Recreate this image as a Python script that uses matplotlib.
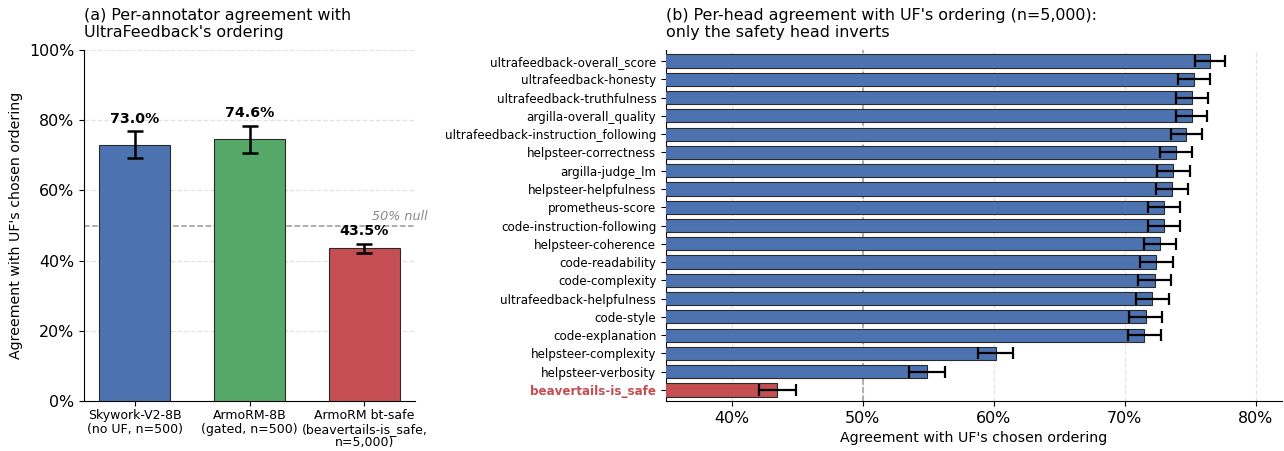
import matplotlib
matplotlib.use("Agg")
import matplotlib.pyplot as plt
from matplotlib.ticker import FuncFormatter

# Panel (a)
annotators = ["Skywork-V2-8B\n(no UF, n=500)", "ArmoRM-8B\n(gated, n=500)",
              "ArmoRM bt-safe\n(beavertails-is_safe,\nn=5,000)"]
agree_a = [73.0, 74.6, 43.5]
err_a = [3.9, 3.85, 1.35]
colors_a = ["#4C72B0", "#55A868", "#C44E52"]

# Panel (b)
heads = ["ultrafeedback-overall_score", "ultrafeedback-honesty", "ultrafeedback-truthfulness",
         "argilla-overall_quality", "ultrafeedback-instruction_following", "helpsteer-correctness",
         "argilla-judge_lm", "helpsteer-helpfulness", "prometheus-score",
         "code-instruction-following", "helpsteer-coherence", "code-readability",
         "code-complexity", "ultrafeedback-helpfulness", "code-style", "code-explanation",
         "helpsteer-complexity", "helpsteer-verbosity", "beavertails-is_safe"]
agree_b = [76.5, 75.3, 75.15, 75.1, 74.7, 73.9, 73.7, 73.6, 73.0, 73.0,
           72.7, 72.4, 72.3, 72.1, 71.6, 71.5, 60.15, 54.9, 43.5]
err_b = [1.17, 1.2, 1.2, 1.2, 1.2, 1.2, 1.25, 1.2, 1.25, 1.25,
         1.25, 1.25, 1.25, 1.25, 1.25, 1.25, 1.33, 1.38, 1.4]

fig = plt.figure(figsize=(12.84, 4.51), dpi=100)
ax1 = fig.add_axes([84/1284, 50/451, 331/1284, 351/451])
ax2 = fig.add_axes([666/1284, 50/451, 616/1284, 351/451])

pct = FuncFormatter(lambda v, p: f"{v:.0f}%")

# ---- panel a
x = range(len(agree_a))
ax1.bar(x, agree_a, width=0.62, color=colors_a, edgecolor="#2a2a2a", linewidth=0.8,
        yerr=err_a, capsize=6, error_kw=dict(elinewidth=1.8, capthick=1.8, ecolor="black"),
        zorder=3)
for xi, v, e in zip(x, agree_a, err_a):
    ax1.text(xi, v + e + 1.5, f"{v:.1f}%", ha="center", va="bottom",
             fontsize=10.2, fontweight="bold")
ax1.axhline(50, color="#999999", linestyle="--", linewidth=1.1, zorder=2)
ax1.text(2.55, 50.6, "50% null", ha="right", va="bottom", fontsize=9.2,
         style="italic", color="#888888", clip_on=False)
ax1.set_ylim(0, 100)
ax1.yaxis.set_major_formatter(pct)
ax1.set_xticks(list(x))
ax1.set_xticklabels(annotators, fontsize=9, linespacing=1.05)
ax1.tick_params(axis="x", pad=2.5)
ax1.tick_params(axis="y", labelsize=11.4)
ax1.set_ylabel("Agreement with UF's chosen ordering", fontsize=10.2)
ax1.grid(axis="y", linestyle="--", color="#e3e3e3", linewidth=0.9, zorder=0)
ax1.set_axisbelow(True)
for s in ["top", "right"]:
    ax1.spines[s].set_visible(False)
ax1.set_title("(a) Per-annotator agreement with\nUltraFeedback's ordering", loc="left",
              fontsize=11.4, pad=9)

# ---- panel b
y = list(range(len(heads)))[::-1]
colors_b = ["#4C72B0"] * (len(heads) - 1) + ["#C44E52"]
ax2.barh(y, agree_b, height=0.72, color=colors_b, edgecolor="#2a2a2a", linewidth=0.8,
         xerr=err_b, capsize=4, error_kw=dict(elinewidth=1.6, capthick=1.6, ecolor="black"),
         zorder=3)
ax2.axvline(50, color="#999999", linestyle="--", linewidth=1.1, zorder=2)
ax2.set_xlim(35, 82)
ax2.set_xticks([40, 50, 60, 70, 80])
ax2.xaxis.set_major_formatter(pct)
ax2.tick_params(axis="x", labelsize=11.4)
ax2.set_yticks(y)
ax2.set_yticklabels(heads, fontsize=8.6)
lab = ax2.get_yticklabels()[-1]
lab.set_color("#C44E52")
lab.set_fontweight("bold")
ax2.set_ylim(-0.6, len(heads) - 0.4)
ax2.set_xlabel("Agreement with UF's chosen ordering", fontsize=10.2)
ax2.grid(axis="x", linestyle="--", color="#e3e3e3", linewidth=0.9, zorder=0)
ax2.set_axisbelow(True)
for s in ["top", "right"]:
    ax2.spines[s].set_visible(False)
ax2.set_title("(b) Per-head agreement with UF's ordering (n=5,000):\nonly the safety head inverts",
              loc="left", fontsize=11.4, pad=9)

fig.savefig("out.png", dpi=100)
